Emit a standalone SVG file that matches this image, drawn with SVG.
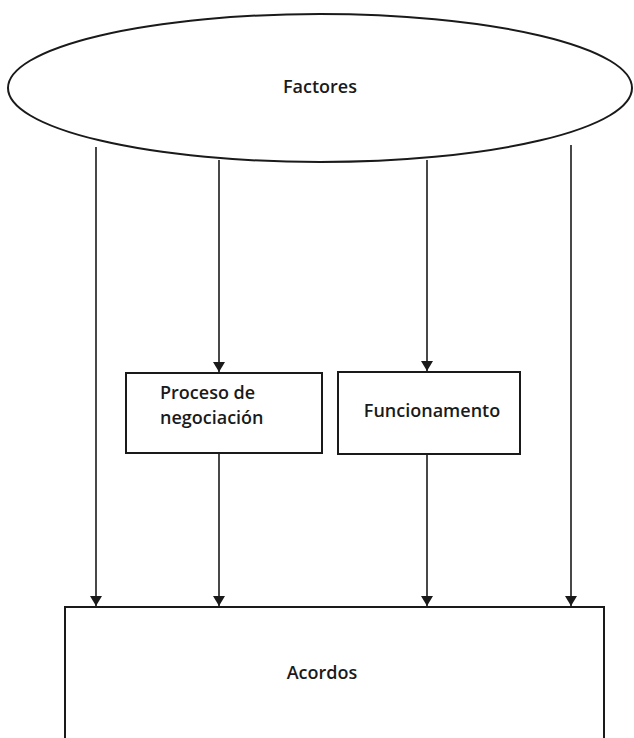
<svg xmlns="http://www.w3.org/2000/svg" width="634" height="738" viewBox="0 0 634 738">
<style>
.shape{fill:#fff;stroke:#1a1a1a;stroke-width:2}
.lbl{font-family:"Open Sans","Noto Sans",sans-serif;font-weight:600;font-size:18px;fill:#1a1a1a}
.conn{stroke:#1a1a1a;stroke-width:1.6;fill:none;marker-end:url(#ah)}
</style>
<defs>
<marker id="ah" viewBox="0 0 10 12" refX="10" refY="6" markerWidth="10" markerHeight="12" markerUnits="userSpaceOnUse" orient="auto">
<path d="M0,0 L10,6 L0,12 Z" fill="#1a1a1a"/>
</marker>
</defs>
<rect width="634" height="738" fill="#fff"/>
<g id="connectors">
<line class="conn" x1="96" y1="147" x2="96" y2="606"/>
<line class="conn" x1="219" y1="160" x2="219" y2="372"/>
<line class="conn" x1="427" y1="160" x2="427" y2="371"/>
<line class="conn" x1="571" y1="145" x2="571" y2="606"/>
<line class="conn" x1="219" y1="453" x2="219" y2="606"/>
<line class="conn" x1="427" y1="455" x2="427" y2="606"/>
</g>
<g id="factores">
<ellipse class="shape" cx="320" cy="88" rx="312" ry="74"/>
<text class="lbl" x="320" y="93" text-anchor="middle">Factores</text>
</g>
<g id="proceso">
<rect class="shape" x="126" y="373" width="196" height="80"/>
<text class="lbl" x="160" y="399">Proceso de</text>
<text class="lbl" x="160" y="424">negociación</text>
</g>
<g id="funcionamento">
<rect class="shape" x="338" y="372" width="182" height="82"/>
<text class="lbl" x="432" y="417" text-anchor="middle">Funcionamento</text>
</g>
<g id="acordos">
<rect class="shape" x="65" y="607" width="539" height="145"/>
<text class="lbl" x="322" y="679" text-anchor="middle">Acordos</text>
</g>
</svg>
